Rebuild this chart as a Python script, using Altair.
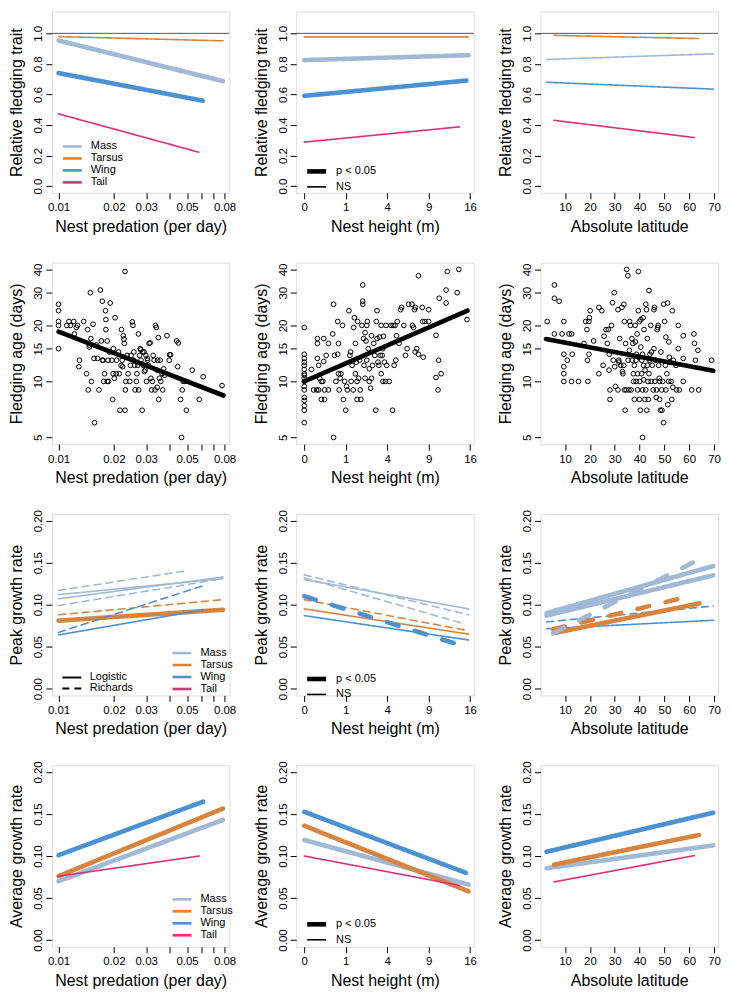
import altair as alt
import pandas as pd

FONT = "Liberation Sans"

TRAITS = ["Mass", "Tarsus", "Wing", "Tail"]
TRAIT_COLORS = ["#9fb9d6", "#d9843e", "#4a92d3", "#df2f7f"]
SIG_LEVELS = ["p < 0.05", "NS"]
SIG_WIDTHS = [4.6, 1.6]
MODELS = ["Logistic", "Richards"]
DASH_KEYS = ["Logistic", "Richards", "Logistic thick", "Richards thick"]
DASH_PATTERNS = [[1, 0], [7, 5], [1, 0], [12, 17]]

PRED_TICKS = [0.01, 0.02, 0.03, 0.04, 0.05, 0.06, 0.07, 0.08]
PRED_LABELS = ["0.01", "0.02", "0.03", "0.05", "0.08"]
HEIGHT_TICKS = [0, 1, 4, 9, 16]
LAT_TICKS = [10, 20, 30, 40, 50, 60, 70]
REL_TICKS = [0.0, 0.2, 0.4, 0.6, 0.8, 1.0]
AGE_TICKS = [5, 10, 15, 20, 30, 40]
RATE_TICKS = [0.0, 0.05, 0.10, 0.15, 0.20]

# (trait, model, significance, x_start, y_start, x_end, y_end)
REL_PRED = [
    ("Mass", "Logistic", "p < 0.05", 0.0100, 0.953, 0.0785, 0.687),
    ("Tarsus", "Logistic", "NS", 0.0100, 0.979, 0.0785, 0.951),
    ("Wing", "Logistic", "p < 0.05", 0.0100, 0.740, 0.0610, 0.559),
    ("Tail", "Logistic", "NS", 0.0100, 0.473, 0.0580, 0.222),
]
REL_HEIGHT = [
    ("Mass", "Logistic", "p < 0.05", 0.0, 0.825, 15.7, 0.857),
    ("Tarsus", "Logistic", "NS", 0.0, 0.977, 15.6, 0.977),
    ("Wing", "Logistic", "p < 0.05", 0.0, 0.591, 15.3, 0.691),
    ("Tail", "Logistic", "NS", 0.0, 0.288, 14.0, 0.388),
]
REL_LAT = [
    ("Mass", "Logistic", "NS", 2.5, 0.829, 69.7, 0.866),
    ("Tarsus", "Logistic", "NS", 5.5, 0.987, 63.8, 0.966),
    ("Wing", "Logistic", "NS", 2.5, 0.680, 69.7, 0.635),
    ("Tail", "Logistic", "NS", 5.5, 0.431, 62.1, 0.318),
]
PEAK_PRED = [
    ("Mass", "Richards", "NS", 0.0100, 0.117, 0.0486, 0.140),
    ("Mass", "Logistic", "NS", 0.0100, 0.112, 0.0785, 0.131),
    ("Mass", "Logistic", "NS", 0.0100, 0.107, 0.0785, 0.133),
    ("Mass", "Richards", "NS", 0.0100, 0.099, 0.0785, 0.131),
    ("Tarsus", "Richards", "NS", 0.0100, 0.088, 0.0785, 0.106),
    ("Tarsus", "Logistic", "p < 0.05", 0.0100, 0.081, 0.0785, 0.094),
    ("Wing", "Richards", "NS", 0.0100, 0.067, 0.0620, 0.123),
    ("Wing", "Logistic", "NS", 0.0100, 0.064, 0.0620, 0.094),
]
PEAK_HEIGHT = [
    ("Mass", "Richards", "NS", 0.0, 0.1355, 15.7, 0.088),
    ("Mass", "Logistic", "NS", 0.0, 0.130, 15.7, 0.095),
    ("Mass", "Richards", "NS", 0.0, 0.132, 15.0, 0.077),
    ("Tarsus", "Richards", "NS", 0.0, 0.106, 15.7, 0.069),
    ("Tarsus", "Logistic", "NS", 0.0, 0.095, 15.7, 0.065),
    ("Wing", "Logistic", "NS", 0.0, 0.087, 15.7, 0.058),
    ("Wing", "Richards", "p < 0.05", 0.0, 0.110, 13.9, 0.0525),
]
PEAK_LAT = [
    ("Wing", "Richards", "NS", 2.5, 0.0795, 69.7, 0.0985),
    ("Wing", "Logistic", "NS", 2.5, 0.0714, 69.7, 0.0815),
    ("Tarsus", "Richards", "p < 0.05", 5.2, 0.0707, 60.2, 0.110),
    ("Tarsus", "Logistic", "p < 0.05", 5.2, 0.066, 64.1, 0.1015),
    ("Mass", "Logistic", "p < 0.05", 2.5, 0.090, 69.7, 0.146),
    ("Mass", "Logistic", "p < 0.05", 2.5, 0.087, 69.7, 0.135),
    ("Mass", "Richards", "p < 0.05", 5.2, 0.066, 66.7, 0.158),
]
AVG_PRED = [
    ("Mass", "Logistic", "p < 0.05", 0.0100, 0.070, 0.0785, 0.143),
    ("Tarsus", "Logistic", "p < 0.05", 0.0100, 0.076, 0.0785, 0.1565),
    ("Wing", "Logistic", "p < 0.05", 0.0100, 0.101, 0.0612, 0.1647),
    ("Tail", "Logistic", "NS", 0.0100, 0.076, 0.0583, 0.100),
]
AVG_HEIGHT = [
    ("Mass", "Logistic", "p < 0.05", 0.0, 0.119, 15.7, 0.066),
    ("Tarsus", "Logistic", "p < 0.05", 0.0, 0.136, 15.7, 0.058),
    ("Wing", "Logistic", "p < 0.05", 0.0, 0.1526, 15.2, 0.080),
    ("Tail", "Logistic", "NS", 0.0, 0.100, 14.0, 0.065),
]
AVG_LAT = [
    ("Mass", "Logistic", "p < 0.05", 2.5, 0.0854, 69.7, 0.1126),
    ("Tarsus", "Logistic", "p < 0.05", 5.5, 0.0897, 64.0, 0.125),
    ("Wing", "Logistic", "p < 0.05", 2.5, 0.105, 69.7, 0.1515),
    ("Tail", "Logistic", "NS", 5.5, 0.0691, 62.1, 0.1005),
]

# fitted lines for fledging age: (x_start, y_start, x_end, y_end)
FIT_PRED = (0.0100, 18.5, 0.0790, 8.4)
FIT_HEIGHT = (0.0, 10.0, 15.5, 24.0)
FIT_LAT = (2.3, 16.9, 69.7, 11.4)

# species points: (predictor, fledging age in days)
PRED_POINTS = [
    (0.0100, 26), (0.0100, 24), (0.0100, 21), (0.0100, 20), (0.0100, 15),
    (0.0111, 20), (0.0114, 21), (0.0116, 20), (0.0121, 21), (0.0122, 18), (0.0125, 19.5),
    (0.0127, 20), (0.0130, 13), (0.0129, 12), (0.0137, 21), (0.0142, 11), (0.0144, 19),
    (0.0145, 9), (0.0147, 15.7), (0.0147, 15.3), (0.0149, 30), (0.0150, 17), (0.0151, 10),
    (0.0154, 20.3), (0.0156, 13.3), (0.0157, 6), (0.0161, 15.7), (0.0163, 13.3), (0.0166, 9),
    (0.0169, 31), (0.0171, 16.5), (0.0173, 27), (0.0173, 13), (0.0175, 13), (0.0176, 10),
    (0.0178, 11), (0.0180, 24), (0.0181, 21.5), (0.0181, 19), (0.0184, 10), (0.0184, 16.5),
    (0.0186, 13), (0.0187, 10), (0.0189, 14.4), (0.0191, 26.4), (0.0195, 13), (0.0197, 8),
    (0.0198, 11), (0.0199, 15), (0.0201, 10.4), (0.0203, 22), (0.0206, 11), (0.0207, 13),
    (0.0212, 14.4), (0.0214, 11), (0.0216, 7), (0.0219, 12.2), (0.0220, 19), (0.0222, 13),
    (0.0223, 12), (0.0225, 17.6), (0.0227, 16.9), (0.0228, 16), (0.0230, 7), (0.0230, 39),
    (0.0231, 9), (0.0232, 10), (0.0236, 13.8), (0.0239, 11), (0.0244, 10), (0.0246, 12.2),
    (0.0248, 13.8), (0.0252, 20.9), (0.0254, 20), (0.0256, 13), (0.0257, 14.4), (0.0259, 12.2),
    (0.0261, 9), (0.0265, 10), (0.0267, 11), (0.0270, 12.2), (0.0272, 18), (0.0273, 9),
    (0.0276, 13.8), (0.0278, 15), (0.0280, 14.8), (0.0281, 13), (0.0285, 7), (0.0287, 14.4),
    (0.0289, 12.2), (0.0292, 14.4), (0.0293, 11.3), (0.0296, 11.5), (0.0299, 13.8), (0.0301, 10),
    (0.0304, 13.3), (0.0305, 13), (0.0309, 12.2), (0.0311, 16), (0.0315, 16.1), (0.0318, 10.4),
    (0.0321, 9), (0.0324, 10), (0.0327, 13.8), (0.0331, 13), (0.0335, 9), (0.0337, 20),
    (0.0340, 19.5), (0.0343, 11.5), (0.0344, 9.3), (0.0346, 13), (0.0349, 17.2), (0.0351, 8),
    (0.0354, 10.4), (0.0357, 13), (0.0360, 10), (0.0366, 11), (0.0369, 9), (0.0373, 11.7),
    (0.0378, 10.8), (0.0389, 17.6), (0.0400, 13), (0.0402, 13.9), (0.0407, 13.9), (0.0439, 16.5),
    (0.0445, 12), (0.0448, 16.1), (0.0461, 8), (0.0467, 5), (0.0471, 9), (0.0476, 10),
    (0.0486, 10), (0.0496, 7), (0.0534, 11.5), (0.0583, 8), (0.0612, 10.6), (0.0775, 9.5),
]
HEIGHT_POINTS = [
    (0, 19.5), (0, 14), (0, 13.3), (0, 12.7), (0, 12.2), (0, 11.6), (0, 11), (0, 10.8),
    (0, 10.4), (0, 10), (0, 9.4), (0, 9), (0, 8.2), (0, 7.9), (0, 7.4), (0, 7), (0, 6),
    (0.03, 11.6), (0.05, 9), (0.09, 9), (0.10, 13.3), (0.10, 17), (0.10, 16), (0.12, 12.2),
    (0.12, 9), (0.14, 10.4), (0.17, 8), (0.17, 10), (0.20, 10), (0.22, 17), (0.22, 12.8),
    (0.24, 8), (0.24, 9), (0.28, 13.8), (0.34, 16), (0.34, 9), (0.47, 18), (0.50, 26),
    (0.50, 5), (0.53, 13.8), (0.58, 10), (0.65, 14), (0.65, 21), (0.68, 16), (0.68, 11),
    (0.71, 9), (0.75, 10.4), (0.78, 11), (0.85, 20), (0.89, 8), (0.95, 10), (1.0, 7),
    (1.04, 9.4), (1.08, 9), (1.16, 24), (1.21, 13.8), (1.25, 14.4), (1.28, 10), (1.33, 12.2),
    (1.39, 9), (1.42, 19.5), (1.46, 22), (1.52, 16), (1.58, 12.7), (1.52, 11), (1.62, 10),
    (1.66, 21), (1.62, 8), (1.72, 10.4), (1.78, 13), (1.82, 9), (1.86, 8), (1.93, 20),
    (1.99, 33), (1.99, 27), (1.99, 26), (2.04, 17), (2.08, 12.2), (2.15, 10.4), (2.15, 18.3),
    (2.22, 16.5), (2.27, 13), (2.27, 20), (2.31, 21), (2.38, 15), (2.46, 11.7), (2.46, 10),
    (2.56, 9.2), (2.63, 10.4), (2.63, 17.6), (2.71, 12.2), (2.81, 16), (2.89, 13.8), (2.97, 7),
    (3.02, 21), (3.08, 24), (3.08, 17), (3.16, 12.7), (3.24, 12.2), (3.30, 17.3), (3.36, 13.8),
    (3.44, 20), (3.44, 11), (3.53, 13.8), (3.59, 15), (3.59, 10), (3.65, 17.5), (3.74, 12.7),
    (3.83, 10), (3.89, 20), (3.95, 12.2), (4.2, 10), (4.37, 20), (4.53, 7), (4.6, 20),
    (4.7, 12.2), (4.8, 20), (4.87, 13), (4.95, 17.6), (5.04, 21), (5.22, 16), (5.4, 24.3),
    (5.51, 25), (5.77, 20), (5.96, 13.8), (6.15, 15), (6.34, 26), (6.74, 26), (6.8, 20),
    (6.95, 19.5), (7.07, 24.3), (7.15, 14.4), (7.2, 25), (7.36, 15), (7.58, 37), (7.58, 14),
    (8.1, 25), (8.15, 21), (8.23, 13.5), (8.46, 21), (9.0, 24.3), (9.0, 21), (10.1, 17.7),
    (10.1, 10.5), (10.4, 9), (10.5, 13), (10.6, 28), (10.9, 11), (11.7, 31), (11.7, 26.4),
    (11.9, 39), (13.6, 30), (13.9, 40), (15.4, 21.5),
]
LAT_POINTS = [
    (2.8, 21), (5.7, 33), (5.7, 28), (5.7, 18), (7.6, 27), (8.8, 18), (9.5, 21), (9.5, 14),
    (9.5, 12), (9.5, 11), (9.5, 10), (10.9, 13), (11.6, 18), (12.6, 18), (12.6, 10), (12.9, 14),
    (15.4, 10), (17.6, 16), (18.3, 21), (18.8, 19), (19.0, 13), (19.2, 10), (19.6, 21),
    (19.6, 14), (19.8, 22), (20.1, 24), (21.5, 16.5), (23.6, 25), (23.6, 11), (24.8, 24),
    (25.3, 12.2), (25.7, 17.5), (26.5, 19), (27.0, 16), (27.4, 19), (27.7, 11.5), (27.8, 14),
    (28.1, 9), (28.1, 8), (28.7, 20), (29.1, 26.5), (29.4, 13), (29.8, 30), (30.0, 12),
    (30.3, 9.4), (31.3, 9), (31.3, 24.3), (31.6, 13), (31.7, 12.7), (32.0, 17), (32.4, 12.2),
    (32.9, 25), (33.1, 11.3), (33.3, 11), (33.6, 12.2), (33.7, 26), (33.9, 21), (33.9, 9),
    (34.2, 7), (34.4, 16), (34.6, 9), (34.8, 40), (35.3, 37), (35.4, 13), (35.7, 9),
    (35.9, 14.7), (36.0, 21), (36.3, 20), (36.6, 9), (36.9, 17), (37.0, 13), (37.3, 16),
    (37.5, 11), (37.6, 10), (37.9, 12.2), (37.9, 8), (38.2, 20), (38.3, 16.3), (38.6, 10),
    (38.6, 13), (38.8, 14), (39.0, 18), (39.2, 9), (39.2, 11), (39.5, 39), (39.5, 24),
    (39.6, 13.5), (39.9, 8), (39.9, 21), (40.1, 10), (40.3, 7), (40.5, 21.5), (40.5, 15.3),
    (40.8, 11), (40.9, 13), (41.2, 14), (41.2, 9), (41.2, 5), (41.4, 22), (41.6, 12.2),
    (41.7, 10.2), (41.8, 19), (42.1, 8), (42.2, 11.5), (42.5, 26), (42.5, 9), (42.8, 24.3),
    (42.9, 7), (43.1, 12.2), (43.1, 17), (43.4, 10), (43.5, 8), (43.8, 30.8), (43.8, 11),
    (44.1, 13), (44.2, 14), (44.5, 20), (44.7, 10), (44.8, 14.4), (45.1, 12.2), (45.5, 9),
    (45.8, 24.3), (45.8, 15), (46.0, 25), (46.2, 10), (46.4, 13), (46.7, 8.2), (46.8, 9),
    (47.1, 19), (47.3, 19.5), (47.5, 20), (47.7, 12.2), (47.9, 10.4), (48.1, 8), (48.1, 10),
    (48.4, 7), (48.6, 14.4), (48.9, 9), (49.0, 7), (49.3, 10), (49.7, 26), (49.7, 6),
    (50.1, 21), (50.4, 12.2), (50.6, 9), (50.6, 17.3), (51.0, 11), (51.3, 26.4), (51.4, 7.5),
    (51.7, 10), (51.8, 16.3), (52.0, 13.5), (52.3, 12.7), (52.7, 10), (53.0, 8), (53.2, 24),
    (53.4, 9.3), (53.6, 13), (54.7, 12.2), (54.9, 9), (55.6, 20), (55.6, 15), (56.0, 9),
    (57.6, 10), (57.6, 17.6), (57.6, 13.3), (61.0, 9), (61.9, 18), (62.1, 16), (62.5, 13),
    (63.5, 14.7), (63.8, 9), (69.0, 13),
]

W, H = 178, 182

AX = dict(grid=False, domain=False, tickSize=6, tickColor="black", tickWidth=1,
          labelColor="black", labelFontSize=11.5, labelFont=FONT,
          titleColor="black", titleFontSize=16, titleFontWeight="normal", titleFont=FONT,
          labelFlush=False, labelOverlap=False)

X_TITLES = {"pred": "Nest predation (per day)", "height": "Nest height (m)", "lat": "Absolute latitude"}


def x_enc(kind):
    common = dict(title=X_TITLES[kind], labelPadding=3, titlePadding=5, **AX)
    if kind == "pred":
        lst = "[" + ",".join("'" + s + "'" for s in PRED_LABELS) + "]"
        expr = ("indexof(" + lst + ", format(datum.value, '.2f')) >= 0 ? "
                "format(datum.value, '.2f') : ''")
        return alt.X("x:Q", scale=alt.Scale(type="log", domain=[0.0092, 0.085], nice=False),
                     axis=alt.Axis(values=PRED_TICKS, labelExpr=expr, **common))
    if kind == "height":
        return alt.X("x:Q", scale=alt.Scale(type="sqrt", domain=[-0.038, 16.7], nice=False, zero=False),
                     axis=alt.Axis(values=HEIGHT_TICKS, format="d", **common))
    return alt.X("x:Q", scale=alt.Scale(domain=[0.1, 71.6], nice=False, zero=False),
                 axis=alt.Axis(values=LAT_TICKS, format="d", **common))


def y_enc(kind):
    common = dict(labelAngle=270, labelAlign="center", labelBaseline="bottom",
                  labelPadding=2, titlePadding=8, **AX)
    if kind == "rel":
        return alt.Y("y:Q", scale=alt.Scale(domain=[-0.044, 1.144], nice=False, zero=False),
                     axis=alt.Axis(title="Relative fledging trait", values=REL_TICKS, format=".1f", **common))
    if kind == "age":
        return alt.Y("y:Q", scale=alt.Scale(type="log", domain=[4.6, 43.5], nice=False),
                     axis=alt.Axis(title="Fledging age (days)", values=AGE_TICKS, format="d", **common))
    title = "Peak growth rate" if kind == "peak" else "Average growth rate"
    return alt.Y("y:Q", scale=alt.Scale(domain=[-0.008, 0.208], nice=False, zero=False),
                 axis=alt.Axis(title=title, values=RATE_TICKS, format=".2f", **common))


def leg(x, y, **kw):
    base = dict(orient="none", legendX=x, legendY=y, title=None, symbolType="M-2,0H2",
                symbolSize=90, labelFontSize=11, labelFont=FONT, labelColor="black",
                rowPadding=0, padding=0, labelOffset=12)
    base.update(kw)
    return alt.Legend(**base)


def line_frame(rows):
    recs = []
    for i, (trait, model, sig, x1, y1, x2, y2) in enumerate(rows):
        dash = model if sig == "NS" else model + " thick"
        recs.append(dict(line=i, trait=trait, sig=sig, dash=dash, x=x1, y=y1))
        recs.append(dict(line=i, trait=trait, sig=sig, dash=dash, x=x2, y=y2))
    return pd.DataFrame(recs)


def trend_panel(rows, xk, yk, color_leg=None, sig_leg=None, dash_leg=None, ref_line=False):
    df = line_frame(rows)
    lines = alt.Chart(df).mark_line(strokeCap="round").encode(
        x=x_enc(xk), y=y_enc(yk),
        color=alt.Color("trait:N", scale=alt.Scale(domain=TRAITS, range=TRAIT_COLORS),
                        legend=color_leg),
        strokeWidth=alt.StrokeWidth("sig:N", scale=alt.Scale(domain=SIG_LEVELS, range=SIG_WIDTHS),
                                    legend=sig_leg),
        strokeDash=alt.StrokeDash("dash:N", scale=alt.Scale(domain=DASH_KEYS, range=DASH_PATTERNS),
                                  legend=dash_leg),
        detail="line:N",
    )
    layers = []
    if ref_line:
        rule = alt.Chart(pd.DataFrame({"y": [1.0]})).mark_rule(color="#555555", strokeWidth=1).encode(
            y=y_enc(yk))
        layers.append(rule)
    layers.append(lines)
    return alt.layer(*layers).properties(width=W, height=H)


def scatter_panel(points, fit, xk):
    pts = pd.DataFrame(points, columns=["x", "y"])
    fdf = pd.DataFrame({"x": [fit[0], fit[2]], "y": [fit[1], fit[3]]})
    dots = alt.Chart(pts).mark_point(shape="circle", filled=False, size=22, color="black",
                                     strokeWidth=1, opacity=1).encode(x=x_enc(xk), y=y_enc("age"))
    fitl = alt.Chart(fdf).mark_line(color="black", strokeWidth=4.6, strokeCap="round").encode(
        x=x_enc(xk), y=y_enc("age"))
    return alt.layer(dots, fitl).properties(width=W, height=H)


color_legend_r1 = leg(14, 129, symbolStrokeWidth=2.6)
color_legend_r3 = leg(124, 133, symbolStrokeWidth=2.6)
color_legend_r4 = leg(124, 128, symbolStrokeWidth=2.6)
dash_legend_r3 = leg(14, 158, symbolStrokeColor="black", symbolStrokeWidth=2, values=MODELS)
sig_legend_r1 = leg(13, 153, symbolStrokeColor="black")
sig_legend_r3 = leg(13, 158, symbolStrokeColor="black")
sig_legend_r4 = leg(13, 152, symbolStrokeColor="black")

panels = [
    trend_panel(REL_PRED, "pred", "rel", color_leg=color_legend_r1, ref_line=True),
    trend_panel(REL_HEIGHT, "height", "rel", sig_leg=sig_legend_r1, ref_line=True),
    trend_panel(REL_LAT, "lat", "rel", ref_line=True),
    scatter_panel(PRED_POINTS, FIT_PRED, "pred"),
    scatter_panel(HEIGHT_POINTS, FIT_HEIGHT, "height"),
    scatter_panel(LAT_POINTS, FIT_LAT, "lat"),
    trend_panel(PEAK_PRED, "pred", "peak", color_leg=color_legend_r3, dash_leg=dash_legend_r3),
    trend_panel(PEAK_HEIGHT, "height", "peak", sig_leg=sig_legend_r3),
    trend_panel(PEAK_LAT, "lat", "peak"),
    trend_panel(AVG_PRED, "pred", "avg", color_leg=color_legend_r4),
    trend_panel(AVG_HEIGHT, "height", "avg", sig_leg=sig_legend_r4),
    trend_panel(AVG_LAT, "lat", "avg"),
]

chart = alt.concat(*panels, columns=3, spacing={"row": 70, "column": 67}, bounds="flush").resolve_scale(
    color="independent", strokeWidth="independent", strokeDash="independent"
).resolve_legend(
    color="independent", strokeWidth="independent", strokeDash="independent"
).properties(
    padding={"left": 0, "top": 1, "right": 0, "bottom": 0}
).configure_view(
    stroke="black", strokeWidth=1
).configure(font=FONT)

chart.save("out.html", embed_options={"renderer": "svg", "actions": False})
